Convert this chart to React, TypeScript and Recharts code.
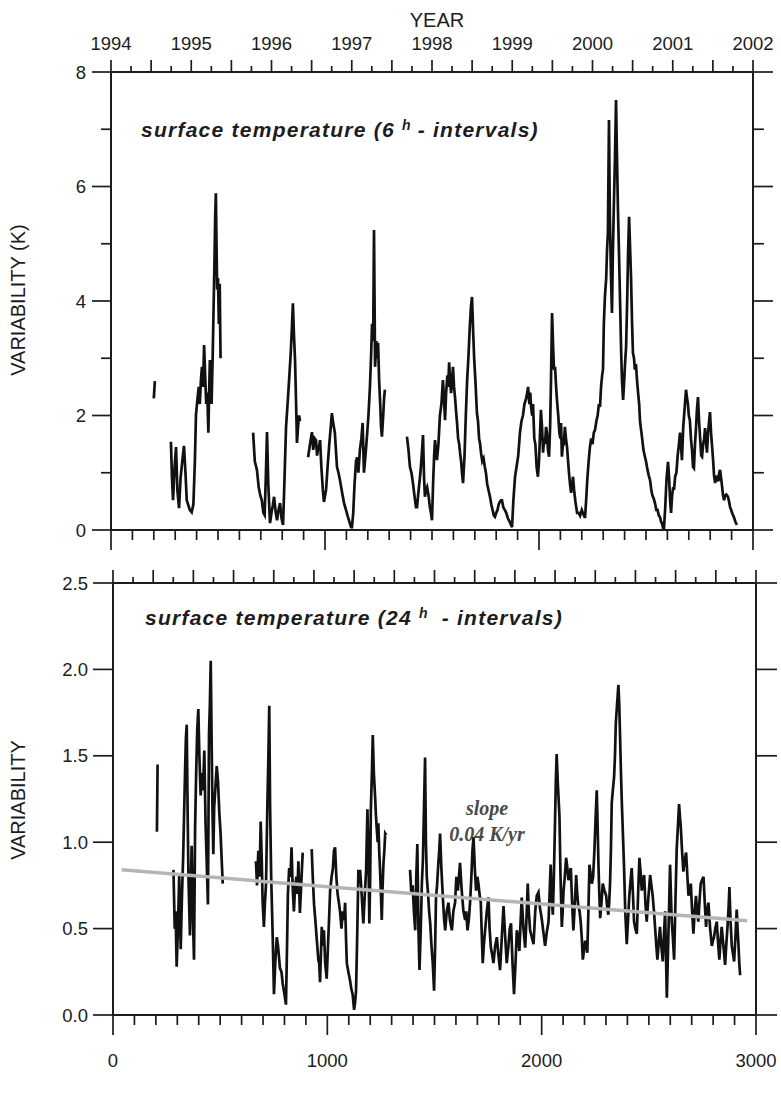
import React from 'react';
import { LineChart, Line, XAxis, YAxis, ReferenceLine } from 'recharts';

type Pt = [number, number];

// axis labels
const yearLabels = [1994, 1995, 1996, 1997, 1998, 1999, 2000, 2001, 2002];
const dayLabels = [0, 1000, 2000, 3000];
const sixHourTicks = [0, 1, 2, 3, 4, 5, 6, 7, 8];
const dailyTicks = [0, 0.5, 1, 1.5, 2, 2.5];

// surface temperature variability, 6h intervals (day, K)
const sixHourSeg1: Pt[] = [[200, 2.3], [205, 2.6]];
const sixHourSeg2: Pt[] = [
  [280, 1.54], [285, 0.9], [290, 0.52], [297, 1.1], [304, 1.45], [310, 0.7], [318, 0.38], [325, 0.9],
  [333, 1.2], [341, 1.47], [348, 1.0], [354, 0.52], [360, 0.45], [368, 0.35], [377, 0.31], [385, 0.45],
  [392, 1.2], [397, 2.0], [403, 2.25], [410, 2.5], [415, 2.2], [420, 2.6], [425, 2.85], [430, 2.5],
  [435, 3.23], [440, 2.7], [445, 2.2], [450, 2.4], [455, 1.7], [458, 2.3], [462, 2.97], [466, 2.6],
  [470, 2.2], [475, 3.0], [480, 4.0], [484, 4.8], [487, 5.5], [490, 5.88], [493, 5.0], [496, 4.2],
  [500, 4.4], [504, 3.6], [508, 4.3], [512, 3.0],
];
const sixHourSeg3: Pt[] = [
  [664, 1.7], [672, 1.2], [682, 1.05], [690, 0.75], [698, 0.6], [705, 0.52], [712, 0.3], [718, 0.26],
  [724, 1.0], [729, 1.71], [735, 0.8], [743, 0.12], [750, 0.3], [757, 0.45], [762, 0.58], [770, 0.3],
  [776, 0.17], [783, 0.35], [790, 0.47], [797, 0.2], [804, 0.09], [810, 0.8], [818, 1.8], [825, 2.2],
  [832, 2.6], [840, 3.1], [845, 3.5], [850, 3.96], [855, 3.4], [860, 2.97], [865, 2.2], [869, 1.52],
  [874, 1.8], [879, 2.0], [883, 1.9],
];
const sixHourSeg4: Pt[] = [
  [921, 1.27], [930, 1.5], [939, 1.71], [945, 1.4], [952, 1.6], [958, 1.57], [963, 1.3], [967, 1.4],
  [972, 1.45], [977, 1.57], [983, 1.1], [990, 0.7], [995, 0.49], [1000, 0.6], [1005, 0.7], [1012, 1.1],
  [1020, 1.5], [1027, 1.8], [1032, 2.04], [1039, 1.85], [1046, 1.7], [1051, 1.4], [1056, 1.1], [1063, 1.0],
  [1070, 0.87], [1080, 0.65], [1089, 0.47], [1098, 0.35], [1107, 0.23], [1116, 0.12], [1122, 0.05],
  [1126, 0.05], [1132, 0.3], [1138, 0.8], [1145, 1.2], [1150, 1.27], [1156, 1.0], [1163, 1.4], [1170, 1.6],
  [1176, 1.87], [1182, 1.0], [1189, 1.3], [1196, 1.63], [1203, 2.0], [1210, 2.5], [1215, 3.0], [1220, 3.6],
  [1225, 3.3], [1229, 5.24], [1234, 2.85], [1240, 3.3], [1244, 3.0], [1248, 3.27], [1253, 2.6], [1258, 2.2],
  [1262, 1.8], [1266, 1.63], [1272, 2.0], [1276, 2.3], [1280, 2.45],
];
const sixHourSeg5: Pt[] = [
  [1383, 1.63], [1390, 1.4], [1397, 1.1], [1404, 1.0], [1411, 0.82], [1418, 0.6], [1425, 0.4], [1430, 0.4],
  [1435, 0.6], [1439, 0.75], [1446, 1.0], [1452, 1.3], [1458, 1.66], [1463, 0.9], [1467, 0.58], [1472, 0.7],
  [1477, 0.75], [1484, 0.6], [1490, 0.4], [1495, 0.3], [1500, 0.17], [1505, 0.8], [1510, 1.3], [1514, 1.57],
  [1519, 1.4], [1523, 1.22], [1530, 1.5], [1537, 2.0], [1544, 2.2], [1551, 2.62], [1556, 2.3], [1561, 1.92],
  [1566, 2.4], [1572, 2.7], [1576, 2.5], [1580, 2.93], [1585, 2.6], [1589, 2.39], [1594, 2.6], [1598, 2.85],
  [1603, 2.5], [1608, 2.3], [1612, 2.1], [1617, 1.87], [1622, 1.6], [1627, 1.5], [1631, 1.35], [1636, 1.2],
  [1640, 1.0], [1645, 0.82], [1652, 1.3], [1658, 2.0], [1664, 2.6], [1670, 3.0], [1676, 3.5], [1682, 3.9],
  [1687, 4.07], [1692, 3.5], [1697, 3.0], [1703, 2.6], [1710, 2.04], [1715, 1.9], [1720, 1.6], [1725, 1.5],
  [1729, 1.35], [1735, 1.2], [1741, 1.25], [1747, 1.1], [1752, 1.0], [1758, 0.8], [1764, 0.7], [1771, 0.58],
  [1777, 0.45], [1783, 0.35], [1789, 0.25], [1794, 0.23], [1800, 0.3], [1806, 0.35], [1812, 0.45], [1818, 0.5],
  [1822, 0.52], [1827, 0.52], [1833, 0.4], [1840, 0.35], [1847, 0.3], [1855, 0.2], [1862, 0.15], [1868, 0.1],
  [1874, 0.05], [1880, 0.5], [1888, 0.93], [1895, 1.1], [1903, 1.3], [1911, 1.7], [1918, 1.9], [1925, 2.0],
  [1932, 2.2], [1940, 2.3], [1945, 2.4], [1949, 2.5], [1955, 2.2], [1959, 2.4], [1963, 2.15], [1968, 2.0],
  [1972, 2.2], [1978, 1.6], [1983, 1.5], [1989, 1.1], [1995, 0.93], [2000, 1.2], [2004, 1.6], [2009, 2.1],
  [2014, 1.8], [2019, 1.35], [2024, 1.6], [2028, 1.5], [2033, 1.8], [2037, 1.7], [2042, 1.4], [2047, 1.28],
  [2052, 1.8], [2056, 2.6], [2061, 3.79], [2066, 3.2], [2070, 2.8], [2075, 2.85], [2080, 2.5], [2084, 2.27],
  [2090, 2.0], [2095, 1.7], [2100, 1.6], [2103, 1.87], [2107, 1.28], [2112, 1.5], [2116, 1.5], [2121, 1.8],
  [2126, 1.6], [2131, 1.45], [2136, 1.2], [2140, 1.0], [2145, 0.8], [2150, 0.65], [2155, 0.8], [2159, 0.93],
  [2164, 0.7], [2170, 0.5], [2178, 0.3], [2185, 0.3], [2192, 0.25], [2200, 0.35], [2207, 0.28], [2215, 0.21],
  [2220, 0.5], [2226, 0.9], [2232, 1.2], [2238, 1.45], [2244, 1.6], [2250, 1.5], [2256, 1.7], [2262, 1.75],
  [2268, 1.9], [2274, 2.0], [2280, 2.2], [2285, 2.15], [2290, 2.5], [2295, 2.7], [2299, 2.8], [2303, 3.6],
  [2308, 4.07], [2314, 4.4], [2318, 4.9], [2322, 5.2], [2327, 7.16], [2331, 5.5], [2336, 4.5], [2341, 3.79],
  [2345, 4.8], [2350, 5.7], [2355, 6.5], [2360, 7.51], [2364, 6.6], [2369, 5.59], [2374, 4.8], [2379, 3.96],
  [2384, 3.1], [2388, 2.6], [2393, 2.27], [2398, 2.6], [2402, 2.9], [2407, 3.2], [2412, 4.0], [2416, 4.8],
  [2421, 5.47], [2425, 5.0], [2430, 4.42], [2435, 3.6], [2439, 3.09], [2444, 3.0], [2448, 2.8], [2453, 2.9],
  [2458, 2.62], [2463, 2.4], [2468, 2.2], [2472, 1.9], [2477, 1.75], [2482, 1.6], [2488, 1.4], [2495, 1.28],
  [2500, 1.2], [2507, 1.05], [2513, 0.95], [2519, 0.87], [2525, 0.7], [2530, 0.6], [2536, 0.55], [2542, 0.47],
  [2548, 0.35], [2554, 0.35], [2560, 0.25], [2565, 0.23], [2570, 0.15], [2576, 0.1], [2580, 0.03], [2584, 0.03],
  [2590, 0.4], [2596, 0.9], [2603, 1.19], [2608, 0.9], [2613, 0.5], [2617, 0.3], [2622, 0.6], [2627, 0.75],
  [2631, 0.7], [2636, 0.93], [2642, 1.0], [2648, 1.3], [2654, 1.5], [2659, 1.7], [2664, 1.45], [2668, 1.22],
  [2674, 1.8], [2680, 2.1], [2684, 2.3], [2687, 2.45], [2692, 2.3], [2696, 2.2], [2700, 2.0], [2705, 1.92],
  [2710, 1.6], [2715, 1.4], [2720, 1.1], [2724, 1.08], [2729, 1.5], [2734, 1.8], [2738, 2.1], [2743, 2.32],
  [2748, 1.9], [2753, 1.6], [2758, 1.3], [2762, 1.28], [2767, 1.5], [2772, 1.6], [2776, 1.78], [2781, 1.5],
  [2785, 1.35], [2790, 1.7], [2795, 1.9], [2799, 2.06], [2804, 1.7], [2809, 1.45], [2814, 1.2], [2818, 0.95],
  [2823, 0.82], [2828, 0.95], [2833, 0.9], [2838, 0.85], [2842, 1.0], [2846, 1.05], [2851, 0.9], [2856, 0.75],
  [2860, 0.6], [2865, 0.52], [2870, 0.6], [2875, 0.62], [2879, 0.6], [2883, 0.58], [2888, 0.5], [2893, 0.4],
  [2898, 0.35], [2902, 0.3], [2908, 0.25], [2913, 0.2], [2919, 0.13], [2925, 0.09],
];

// surface temperature variability, 24h intervals (day, K)
const dailySeg1: Pt[] = [[205, 1.06], [208, 1.45]];
const dailySeg2: Pt[] = [
  [282, 0.84], [288, 0.5], [292, 0.6], [297, 0.28], [303, 0.5], [309, 0.81], [313, 0.55], [316, 0.38],
  [322, 0.7], [327, 0.9], [331, 1.12], [336, 1.4], [340, 1.6], [344, 1.68], [348, 1.2], [352, 0.8],
  [356, 0.6], [359, 0.46], [363, 0.75], [367, 0.98], [372, 0.6], [378, 0.32], [383, 1.08], [388, 1.4],
  [393, 1.65], [398, 1.77], [403, 1.5], [409, 1.27], [414, 1.4], [420, 1.3], [426, 1.53], [432, 1.1],
  [438, 0.85], [443, 0.64], [448, 1.63], [452, 1.8], [456, 2.05], [460, 1.6], [464, 1.2], [468, 0.93],
  [472, 1.2], [477, 1.3], [484, 1.44], [490, 1.35], [496, 1.17], [502, 1.05], [507, 0.9], [512, 0.76],
];
const dailySeg3: Pt[] = [
  [667, 0.89], [672, 0.75], [678, 0.95], [684, 0.8], [689, 1.12], [694, 0.9], [698, 0.66], [704, 0.51],
  [709, 0.65], [714, 0.76], [720, 1.2], [725, 1.5], [729, 1.79], [733, 1.2], [738, 0.8], [745, 0.46],
  [751, 0.12], [757, 0.3], [764, 0.45], [770, 0.4], [779, 0.27], [786, 0.25], [792, 0.18], [800, 0.12],
  [807, 0.06], [812, 0.4], [816, 0.7], [822, 0.85], [828, 0.8], [833, 0.97], [838, 0.75], [844, 0.6],
  [850, 0.75], [856, 0.8], [860, 0.7], [865, 0.89], [872, 0.59], [878, 0.75], [885, 0.94],
];
const dailySeg4: Pt[] = [
  [927, 0.96], [932, 0.8], [938, 0.64], [944, 0.55], [950, 0.45], [958, 0.32], [962, 0.3], [966, 0.19],
  [970, 0.35], [974, 0.51], [979, 0.4], [984, 0.49], [990, 0.3], [997, 0.21], [1003, 0.4], [1008, 0.55],
  [1013, 0.72], [1020, 0.8], [1026, 0.85], [1031, 0.95], [1036, 0.97], [1042, 0.8], [1048, 0.7], [1054, 0.65],
  [1060, 0.59], [1066, 0.5], [1072, 0.6], [1078, 0.55], [1083, 0.65], [1087, 0.45], [1091, 0.3], [1098, 0.25],
  [1106, 0.2], [1112, 0.15], [1118, 0.12], [1125, 0.03], [1130, 0.08], [1134, 0.14], [1140, 0.5], [1145, 0.84],
  [1149, 0.8], [1153, 0.84], [1160, 0.7], [1168, 0.53], [1175, 0.7], [1181, 0.84], [1187, 1.19], [1192, 0.9],
  [1196, 0.53], [1200, 0.8], [1203, 1.19], [1208, 1.4], [1212, 1.62], [1217, 1.4], [1223, 1.26], [1227, 1.15],
  [1231, 1.07], [1235, 1.0], [1238, 1.11], [1242, 0.95], [1246, 0.84], [1250, 0.7], [1254, 0.55], [1258, 0.75],
  [1262, 0.88], [1266, 0.95], [1270, 1.05], [1275, 1.04],
];
const dailySeg5: Pt[] = [
  [1386, 0.84], [1392, 0.7], [1398, 0.75], [1404, 0.6], [1410, 0.49], [1415, 0.8], [1420, 0.99], [1425, 0.5],
  [1430, 0.26], [1436, 0.5], [1441, 0.76], [1446, 0.9], [1451, 1.2], [1456, 1.49], [1460, 1.0], [1464, 0.8],
  [1470, 0.7], [1475, 0.6], [1480, 0.53], [1486, 0.4], [1492, 0.3], [1498, 0.14], [1503, 0.4], [1507, 0.68],
  [1512, 0.75], [1518, 0.88], [1522, 0.95], [1526, 1.05], [1532, 0.85], [1539, 0.68], [1545, 0.55], [1550, 0.49],
  [1557, 0.6], [1565, 0.65], [1572, 0.55], [1581, 0.49], [1588, 0.6], [1596, 0.65], [1602, 0.8], [1609, 0.72],
  [1614, 0.8], [1619, 0.88], [1623, 0.8], [1627, 0.72], [1635, 0.6], [1643, 0.55], [1648, 0.6], [1654, 0.49],
  [1660, 0.55], [1666, 0.65], [1672, 0.8], [1677, 0.95], [1682, 1.03], [1688, 0.85], [1694, 0.72], [1700, 0.8],
  [1705, 0.76], [1710, 0.7], [1716, 0.65], [1721, 0.45], [1725, 0.3], [1730, 0.4], [1736, 0.49], [1744, 0.6],
  [1752, 0.68], [1757, 0.5], [1763, 0.39], [1769, 0.35], [1775, 0.3], [1783, 0.4], [1791, 0.45], [1798, 0.35],
  [1806, 0.26], [1814, 0.45], [1822, 0.63], [1830, 0.45], [1837, 0.3], [1845, 0.4], [1851, 0.5], [1857, 0.53],
  [1864, 0.3], [1871, 0.12], [1878, 0.3], [1884, 0.49], [1890, 0.45], [1896, 0.37], [1902, 0.55], [1907, 0.68],
  [1915, 0.5], [1923, 0.39], [1929, 0.55], [1935, 0.76], [1940, 0.6], [1946, 0.49], [1954, 0.45], [1962, 0.41],
  [1970, 0.6], [1977, 0.69], [1985, 0.71], [1992, 0.62], [2000, 0.56], [2008, 0.48], [2016, 0.4], [2024, 0.48],
  [2032, 0.54], [2037, 0.7], [2042, 0.87], [2047, 0.7], [2052, 0.58], [2057, 0.8], [2062, 1.1], [2066, 1.35],
  [2070, 1.51], [2075, 1.35], [2079, 1.25], [2083, 1.15], [2088, 0.8], [2094, 0.51], [2098, 0.6], [2102, 0.72],
  [2108, 0.8], [2114, 0.91], [2120, 0.85], [2125, 0.78], [2130, 0.82], [2136, 0.85], [2142, 0.65], [2148, 0.49],
  [2155, 0.65], [2161, 0.81], [2166, 0.7], [2171, 0.63], [2177, 0.6], [2182, 0.54], [2187, 0.45], [2192, 0.32],
  [2198, 0.38], [2203, 0.43], [2208, 0.4], [2213, 0.36], [2218, 0.6], [2223, 0.87], [2228, 0.82], [2234, 0.76],
  [2240, 0.8], [2246, 0.95], [2252, 1.15], [2257, 1.3], [2261, 1.1], [2265, 0.87], [2269, 0.7], [2273, 0.56],
  [2279, 0.65], [2285, 0.76], [2293, 0.72], [2301, 0.69], [2306, 0.62], [2311, 0.58], [2315, 0.65], [2319, 0.76],
  [2323, 0.95], [2327, 1.23], [2332, 1.3], [2338, 1.38], [2342, 1.5], [2346, 1.69], [2352, 1.8], [2358, 1.91],
  [2362, 1.8], [2366, 1.6], [2370, 1.4], [2374, 1.23], [2379, 1.05], [2384, 0.87], [2390, 0.6], [2397, 0.41],
  [2403, 0.55], [2409, 0.69], [2415, 0.78], [2420, 0.85], [2426, 0.7], [2431, 0.54], [2437, 0.5], [2444, 0.47],
  [2450, 0.7], [2456, 0.91], [2462, 0.82], [2467, 0.72], [2473, 0.78], [2478, 0.81], [2484, 0.65], [2490, 0.54],
  [2498, 0.68], [2506, 0.81], [2512, 0.75], [2518, 0.69], [2524, 0.6], [2529, 0.51], [2535, 0.4], [2540, 0.32],
  [2546, 0.42], [2552, 0.51], [2558, 0.4], [2565, 0.31], [2570, 0.45], [2576, 0.6], [2580, 0.35], [2584, 0.1],
  [2588, 0.3], [2591, 0.45], [2595, 0.65], [2599, 0.87], [2603, 0.7], [2607, 0.54], [2612, 0.45], [2618, 0.32],
  [2624, 0.65], [2630, 0.96], [2636, 1.1], [2641, 1.22], [2645, 1.15], [2649, 1.09], [2655, 0.95], [2661, 0.83],
  [2668, 0.9], [2674, 0.94], [2680, 0.8], [2685, 0.69], [2690, 0.72], [2696, 0.76], [2702, 0.6], [2708, 0.47],
  [2714, 0.6], [2720, 0.69], [2725, 0.6], [2731, 0.54], [2736, 0.65], [2742, 0.76], [2748, 0.78], [2755, 0.8],
  [2761, 0.65], [2767, 0.51], [2772, 0.6], [2778, 0.65], [2786, 0.5], [2794, 0.4], [2799, 0.43], [2804, 0.45],
  [2810, 0.5], [2817, 0.54], [2823, 0.42], [2829, 0.32], [2834, 0.42], [2840, 0.51], [2848, 0.4], [2856, 0.29],
  [2861, 0.4], [2867, 0.51], [2872, 0.62], [2876, 0.74], [2881, 0.55], [2887, 0.4], [2893, 0.35], [2898, 0.31],
  [2904, 0.45], [2910, 0.61], [2914, 0.5], [2918, 0.41], [2922, 0.3], [2926, 0.23],
];

// linear fit drawn over the daily series (slope 0.04 K/yr)
const trendStart = { day: 40, v: 0.84 };
const trendEnd = { day: 2960, v: 0.545 };

// the year scale on top spans the same width as days 0..3000
const DAYS_PER_YEAR_TICK = 3000 / (yearLabels[yearLabels.length - 1] - yearLabels[0]);
const quarterYears = yearLabels.flatMap((y) => [y, y + 0.25, y + 0.5, y + 0.75]).filter((t) => t <= 2002);
const yearTickDays = quarterYears.map((y) => (y - yearLabels[0]) * DAYS_PER_YEAR_TICK);
const dayTicks = Array.from({ length: 31 }, (_, i) => i * 100);

// join segments, with a null row between them so the line breaks
const toRows = (segs: Pt[][]) =>
  segs.flatMap((seg, i) => {
    const rows = seg.map(([day, v]) => ({ day, v: v as number | null }));
    if (i === 0) return rows;
    const prev = segs[i - 1][segs[i - 1].length - 1][0];
    return [{ day: (prev + seg[0][0]) / 2, v: null }, ...rows];
  });

const sixHourData = toRows([sixHourSeg1, sixHourSeg2, sixHourSeg3, sixHourSeg4, sixHourSeg5]);
const dailyData = toRows([dailySeg1, dailySeg2, dailySeg3, dailySeg4, dailySeg5]);

const INK = '#1c1c1c';
const FONT = '"Liberation Sans", Arial, Helvetica, sans-serif';
const TICK_FONT = 18.5;
const axisLine = { stroke: INK, strokeWidth: 2 };

type Side = 'left' | 'right' | 'top' | 'bottom';

// tick with its own length per value, drawn outwards from the frame
const makeTick =
  (side: Side, len: (v: number) => number, label?: (v: number) => string | null, gap = 0) =>
  (props: any) => {
    const { x, y, payload } = props;
    const v = Number(payload.value);
    const l = len(v);
    const t = label ? label(v) : null;
    const dx = side === 'left' ? -1 : side === 'right' ? 1 : 0;
    const dy = side === 'top' ? -1 : side === 'bottom' ? 1 : 0;
    const anchor = side === 'left' ? 'end' : side === 'right' ? 'start' : 'middle';
    return (
      <g>
        {l > 0 && <line x1={x} y1={y} x2={x + dx * l} y2={y + dy * l} stroke={INK} strokeWidth={1.7} />}
        {t != null && (
          <text x={x + dx * gap} y={y + dy * gap} textAnchor={anchor} dominantBaseline="central"
            fontSize={TICK_FONT} fontFamily={FONT} fill={INK}>
            {t}
          </text>
        )}
      </g>
    );
  };

const dayToYear = (d: number) => yearLabels[0] + d / DAYS_PER_YEAR_TICK;
const isYear = (d: number) => Math.abs(dayToYear(d) - Math.round(dayToYear(d))) < 1e-6;
const isHalf = (d: number) => Math.abs(dayToYear(d) * 2 - Math.round(dayToYear(d) * 2)) < 1e-6;

const yearTickLabeled = makeTick('top', (d) => (isHalf(d) ? 12 : 6), (d) => (isYear(d) ? String(Math.round(dayToYear(d))) : null), 29);
const yearTickPlain = makeTick('top', (d) => (isHalf(d) ? 13 : 6));
const dayTickPlain = makeTick('bottom', (v) => (v % 1000 === 0 ? 20 : 10));
const dayTickLabeled = makeTick('bottom', (v) => (v % 1000 === 0 ? 20 : 10), (v) => (dayLabels.includes(v) ? String(v) : null), 45);
const sixLeftTick = makeTick('left', (v) => (v % 2 === 0 ? 19 : 10), (v) => (v % 2 === 0 ? String(v) : null), 25);
const sixRightTick = makeTick('right', (v) => (v % 2 === 0 ? 20 : 11));
const dailyLeftTick = makeTick('left', () => 20, (v) => v.toFixed(1), 25);
const dailyRightTick = makeTick('right', () => 21);

const text: React.CSSProperties = { position: 'absolute', fontFamily: FONT, color: INK, whiteSpace: 'nowrap', lineHeight: 1 };
const title: React.CSSProperties = { ...text, fontSize: 21, fontWeight: 700, fontStyle: 'italic', letterSpacing: 1.25 };
const sup: React.CSSProperties = { fontSize: 14, verticalAlign: '0.5em', letterSpacing: 0 };

export default function App() {
  return (
    <div style={{ position: 'absolute', left: 0, top: 0, width: 781, height: 1095, background: '#fff', overflow: 'hidden' }}>
      <div style={{ position: 'absolute', left: 0, top: 0 }}>
        <LineChart width={781} height={560} data={sixHourData} margin={{ top: 0, right: 0, bottom: 0, left: 0 }}>
          <XAxis xAxisId="day" dataKey="day" type="number" domain={[0, 3000]} allowDataOverflow ticks={dayTicks} interval={0}
            height={30} tickSize={0} tickMargin={0} tickLine={false} axisLine={axisLine} tick={dayTickPlain} />
          <XAxis xAxisId="year" dataKey="day" orientation="top" type="number" domain={[0, 3000]} allowDataOverflow ticks={yearTickDays} interval={0}
            height={72} tickSize={0} tickMargin={0} tickLine={false} axisLine={axisLine} tick={yearTickLabeled} />
          <YAxis yAxisId="left" type="number" domain={[0, 8]} allowDataOverflow ticks={sixHourTicks} interval={0}
            width={111} tickSize={0} tickMargin={0} tickLine={false} axisLine={axisLine} tick={sixLeftTick} />
          <YAxis yAxisId="right" orientation="right" type="number" domain={[0, 8]} allowDataOverflow ticks={sixHourTicks} interval={0}
            width={28} tickSize={0} tickMargin={0} tickLine={false} axisLine={axisLine} tick={sixRightTick} />
          <Line xAxisId="day" yAxisId="left" type="linear" dataKey="v" stroke="#111" strokeWidth={2.7} dot={false}
            connectNulls={false} isAnimationActive={false} />
        </LineChart>
      </div>

      <div style={{ position: 'absolute', left: 0, top: 560 }}>
        <LineChart width={781} height={535} data={dailyData} margin={{ top: 0, right: 0, bottom: 0, left: 0 }}>
          <XAxis xAxisId="day" dataKey="day" type="number" domain={[0, 3000]} allowDataOverflow ticks={dayTicks} interval={0}
            height={80} tickSize={0} tickMargin={0} tickLine={false} axisLine={axisLine} tick={dayTickLabeled} />
          <XAxis xAxisId="year" dataKey="day" orientation="top" type="number" domain={[0, 3000]} allowDataOverflow ticks={yearTickDays} interval={0}
            height={23} tickSize={0} tickMargin={0} tickLine={false} axisLine={axisLine} tick={yearTickPlain} />
          <YAxis yAxisId="left" type="number" domain={[0, 2.5]} allowDataOverflow ticks={dailyTicks} interval={0}
            width={113} tickSize={0} tickMargin={0} tickLine={false} axisLine={axisLine} tick={dailyLeftTick} />
          <YAxis yAxisId="right" orientation="right" type="number" domain={[0, 2.5]} allowDataOverflow ticks={dailyTicks} interval={0}
            width={25} tickSize={0} tickMargin={0} tickLine={false} axisLine={axisLine} tick={dailyRightTick} />
          <Line xAxisId="day" yAxisId="left" type="linear" dataKey="v" stroke="#111" strokeWidth={2.7} dot={false}
            connectNulls={false} isAnimationActive={false} />
          <ReferenceLine xAxisId="day" yAxisId="left" stroke="#b5b5b5" strokeWidth={3.5}
            segment={[{ x: trendStart.day, y: trendStart.v }, { x: trendEnd.day, y: trendEnd.v }]} />
        </LineChart>
      </div>

      <div style={{ ...text, fontSize: 20, left: 437, top: 10, transform: 'translateX(-50%)' }}>YEAR</div>
      <div style={{ ...text, fontSize: 20, left: 18, top: 300, transform: 'translate(-50%, -50%) rotate(-90deg)' }}>VARIABILITY (K)</div>
      <div style={{ ...text, fontSize: 20, left: 18, top: 800, transform: 'translate(-50%, -50%) rotate(-90deg)' }}>VARIABILITY</div>

      <div style={{ ...title, left: 141, top: 118 }}>
        surface temperature (6 <sup style={sup}>h</sup> - intervals)
      </div>
      <div style={{ ...title, left: 145, top: 606 }}>
        surface temperature (24 <sup style={sup}>h</sup>{'\u00a0 '}- intervals)
      </div>

      <div style={{ ...text, left: 487, top: 795, transform: 'translateX(-50%)', textAlign: 'center', color: '#4a4a4a',
        fontFamily: '"Liberation Serif", "Times New Roman", serif', fontStyle: 'italic', fontWeight: 700, fontSize: 20, lineHeight: '26px' }}>
        slope<br />0.04 K/yr
      </div>
    </div>
  );
}
